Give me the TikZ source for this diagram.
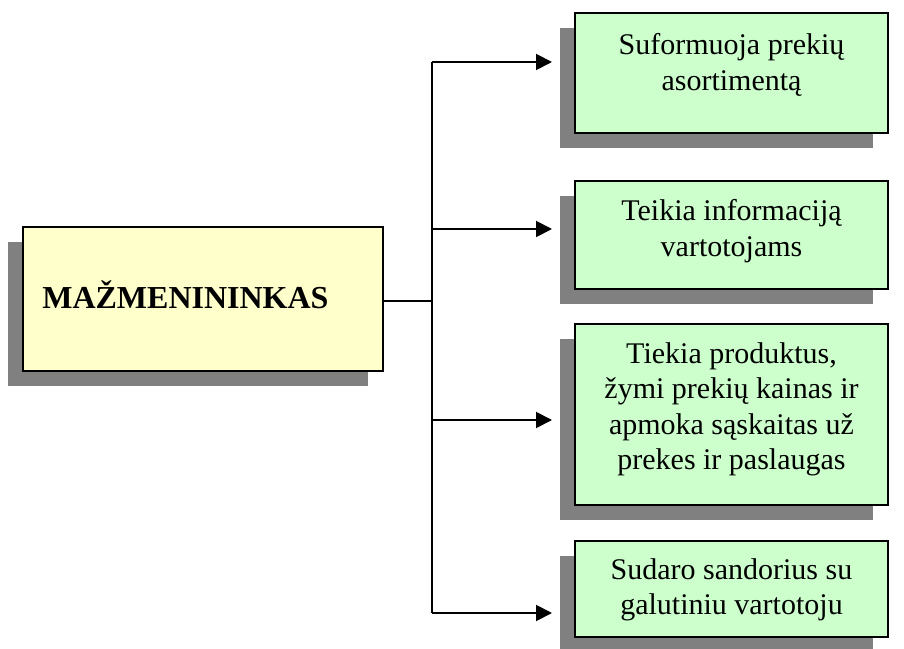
\documentclass[tikz,border=0pt]{standalone}
\usepackage{fontspec}
\setmainfont{Liberation Serif}
\usetikzlibrary{arrows.meta,shadows,calc}
\definecolor{shadowgray}{HTML}{808080}
\definecolor{palegold}{HTML}{FFFFCC}
\definecolor{palegreen}{HTML}{CCFFCC}
\tikzset{
  box/.style={draw=black, line width=1.8pt, rectangle, inner sep=0pt,
    general shadow={fill=shadowgray, shadow xshift=-15pt, shadow yshift=-15pt}},
  mainbox/.style={box, fill=palegold, minimum width=360pt, minimum height=144pt},
  taskbox/.style={box, fill=palegreen, minimum width=313pt},
  lbl/.style={align=center, inner sep=0pt, font=\fontsize{30}{35.5}\selectfont},
  wire/.style={line width=1.9pt},
  arr/.style={wire, -{Triangle[length=16pt, width=16pt]}}
}
\begin{document}
\begin{tikzpicture}[x=1pt, y=1pt]
\useasboundingbox (0,0) rectangle (904,648);

% retailer box
\node[mainbox] (ret) at (203,349) {};
\node[anchor=west, inner sep=0pt, font=\fontsize{32}{37}\bfseries] (rettxt)
  at ($(ret.west)+(20,4)$) {MAŽMENININKAS};

% function boxes
\node[taskbox, minimum height=120pt] (b1) at (731.5,575) {};
\node[taskbox, minimum height=108pt] (b2) at (731.5,413) {};
\node[taskbox, minimum height=181pt] (b3) at (731.5,233.5) {};
\node[taskbox, minimum height=96pt]  (b4) at (731.5,59) {};

\node[lbl] (l1) at ($(b1)+(0,8)$) {Suformuoja prekių\\asortimentą};
\node[lbl] (l2) at ($(b2)+(0,4)$) {Teikia informaciją\\vartotojams};
\node[lbl] (l3) at ($(b3)+(0,5)$) {Tiekia produktus,\\žymi prekių kainas ir\\apmoka sąskaitas už\\prekes ir paslaugas};
\node[lbl] (l4) at ($(b4)+(0,-1)$) {Sudaro sandorius su\\galutiniu vartotoju};

% branching connectors
\coordinate (j) at (432,347);
\coordinate (t1) at (552,586);
\coordinate (t2) at (552,419);
\coordinate (t3) at (552,228);
\coordinate (t4) at (552,35);

\draw[wire] (ret.east |- j) -- (j);
\draw[wire] (t1 -| j) -- (t4 -| j);
\draw[arr] (t1 -| j) -- (t1);
\draw[arr] (t2 -| j) -- (t2);
\draw[arr] (t3 -| j) -- (t3);
\draw[arr] (t4 -| j) -- (t4);
\end{tikzpicture}
\end{document}
